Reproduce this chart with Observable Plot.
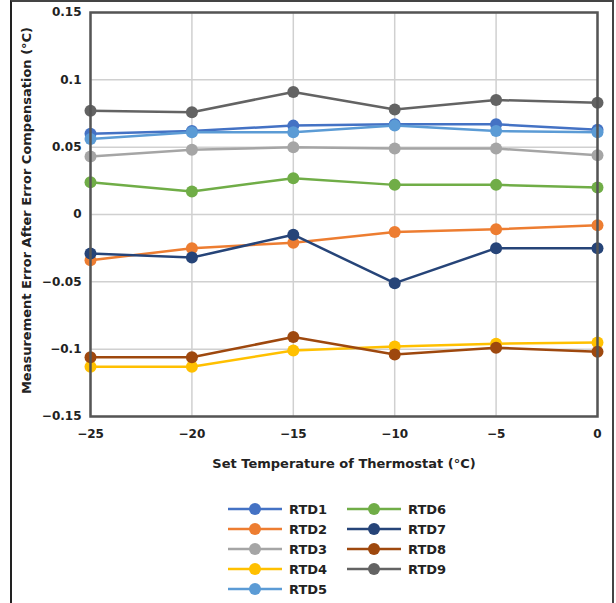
<!DOCTYPE html>
<html>
<head>
<meta charset="utf-8">
<script src="https://cdn.jsdelivr.net/npm/d3@7"></script>
<script src="https://cdn.jsdelivr.net/npm/@observablehq/plot@0.6"></script>
<style>
  html, body { margin: 0; padding: 0; background: #fff; }
  #wrap { position: relative; width: 616px; height: 603px; overflow: hidden; font-family: "DejaVu Sans", sans-serif; }
  #border { position: absolute; left: 10px; top: 0px; width: 604px; height: 610px; border-left: 2px solid #222; border-top: 2px solid #444; border-right: 2px solid #444; box-sizing: border-box; pointer-events: none; }
  #chart { position: absolute; left: 0; top: 0; }
  #legend { position: absolute; left: 0; top: 490px; }
</style>
</head>
<body>
<div id="wrap">
  <div id="chart"></div>
  <div id="legend"></div>
  <div id="border"></div>
</div>
<script>
// ---- data ----
const temps = [-25, -20, -15, -10, -5, 0];
const seriesNames = ["RTD1", "RTD2", "RTD3", "RTD4", "RTD5", "RTD6", "RTD7", "RTD8", "RTD9"];
const seriesColors = ["#4472C4", "#ED7D31", "#A5A5A5", "#FFC000", "#5B9BD5", "#70AD47", "#264478", "#9E480E", "#636363"];
const rtd1 = [0.060, 0.062, 0.066, 0.067, 0.067, 0.063];
const rtd2 = [-0.034, -0.025, -0.021, -0.013, -0.011, -0.008];
const rtd3 = [0.043, 0.048, 0.050, 0.049, 0.049, 0.044];
const rtd4 = [-0.113, -0.113, -0.101, -0.098, -0.096, -0.095];
const rtd5 = [0.056, 0.061, 0.061, 0.066, 0.062, 0.061];
const rtd6 = [0.024, 0.017, 0.027, 0.022, 0.022, 0.020];
const rtd7 = [-0.029, -0.032, -0.015, -0.051, -0.025, -0.025];
const rtd8 = [-0.106, -0.106, -0.091, -0.104, -0.099, -0.102];
const rtd9 = [0.077, 0.076, 0.091, 0.078, 0.085, 0.083];
const seriesValues = [rtd1, rtd2, rtd3, rtd4, rtd5, rtd6, rtd7, rtd8, rtd9];
const yTicks = [-0.15, -0.1, -0.05, 0, 0.05, 0.1, 0.15];
const xTicks = [-25, -20, -15, -10, -5, 0];
const xLabel = "Set Temperature of Thermostat (°C)";
const yLabel = "Measurement Error After Error Compensation (°C)";

// tidy table
const rows = [];
seriesNames.forEach((name, i) => {
  seriesValues[i].forEach((v, j) => rows.push({series: name, temp: temps[j], value: v}));
});

const fmt = d => (d < 0 ? "\u2212" : "") + (+Math.abs(d).toFixed(2));

const font = {fontFamily: "'DejaVu Sans', sans-serif", fontWeight: "bold", fontSize: "12px", color: "#222"};

const chart = Plot.plot({
  width: 616,
  height: 490,
  marginLeft: 90,
  marginRight: 19,
  marginTop: 12,
  marginBottom: 74,
  style: font,
  x: {domain: [-25, 0]},
  y: {domain: [-0.15, 0.15]},
  color: {domain: seriesNames, range: seriesColors},
  marks: [
    Plot.gridX(xTicks, {stroke: "#d0d0d0", strokeOpacity: 1, strokeWidth: 1.5}),
    Plot.gridY(yTicks, {stroke: "#d0d0d0", strokeOpacity: 1, strokeWidth: 1.5}),
    Plot.axisX({ticks: xTicks, tickSize: 0, tickPadding: 13, tickFormat: fmt, label: null, fill: "#222"}),
    Plot.axisY({ticks: yTicks, tickSize: 0, tickPadding: 9, tickFormat: fmt, label: null, fill: "#222"}),
    Plot.line(rows, {x: "temp", y: "value", z: "series", stroke: "series", strokeWidth: 2.5}),
    Plot.dot(rows, {x: "temp", y: "value", fill: "series", r: 6, stroke: null}),
    Plot.frame({stroke: "#555", strokeWidth: 2.5}),
    Plot.text([xLabel], {frameAnchor: "bottom", dy: 51, fill: "#222", fontSize: 13, fontWeight: "bold"}),
    Plot.text([yLabel], {frameAnchor: "left", textAnchor: "middle", dx: -64, dy: -4, rotate: -90, fill: "#222", fontSize: 13, fontWeight: "bold"})
  ]
});
document.getElementById("chart").appendChild(chart);

// ---- legend (below the chart) ----
const legendSvg = d3.create("svg").attr("width", 616).attr("height", 113)
  .style("font-family", "'DejaVu Sans', sans-serif").style("font-weight", "bold").style("font-size", "13px");
seriesNames.forEach((name, i) => {
  const col = i < 5 ? 0 : 1;
  const row = i < 5 ? i : i - 5;
  const x0 = col === 0 ? 228 : 347;
  const y = 19 + row * 20;
  const g = legendSvg.append("g");
  g.append("line").attr("x1", x0).attr("x2", x0 + 54).attr("y1", y).attr("y2", y)
    .attr("stroke", seriesColors[i]).attr("stroke-width", 2.5);
  g.append("circle").attr("cx", x0 + 27).attr("cy", y).attr("r", 6).attr("fill", seriesColors[i]);
  g.append("text").attr("x", x0 + 61).attr("y", y).attr("dy", "0.35em").attr("fill", "#222").text(name);
});
document.getElementById("legend").appendChild(legendSvg.node());
</script>
</body>
</html>
